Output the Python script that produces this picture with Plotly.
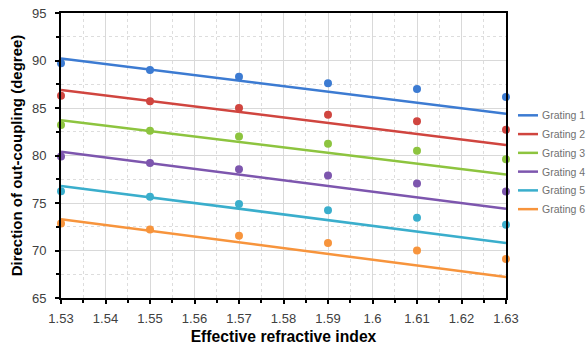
import plotly.graph_objects as go

x_index = [1.53, 1.55, 1.57, 1.59, 1.61, 1.63]
names = ["Grating 1", "Grating 2", "Grating 3", "Grating 4", "Grating 5", "Grating 6"]
colors = ["#3C7BD2", "#D0453F", "#8DC43F", "#7D56AE", "#3AAECC", "#F7943C"]

g1 = [89.7, 89.0, 88.3, 87.6, 87.0, 86.15]
g2 = [86.3, 85.7, 85.0, 84.3, 83.6, 82.7]
g3 = [83.2, 82.6, 82.0, 81.25, 80.5, 79.6]
g4 = [79.9, 79.2, 78.55, 77.9, 77.05, 76.2]
g5 = [76.25, 75.65, 74.9, 74.25, 73.45, 72.7]
g6 = [72.85, 72.2, 71.55, 70.8, 70.0, 69.1]
series = [g1, g2, g3, g4, g5, g6]

fit_x = [1.53, 1.63]
fit_start = [90.2, 86.9, 83.7, 80.4, 76.8, 73.3]
fit_end = [84.4, 81.1, 78.0, 74.4, 70.8, 67.2]

FONT = "Liberation Sans, Arial, sans-serif"
W, H = 587, 350
ML, MR, MT, MB = 61, 81, 12.5, 52
PW = W - ML - MR
PH = H - MT - MB

fig = go.Figure()
for name, col, ys, a, b in zip(names, colors, series, fit_start, fit_end):
    fig.add_trace(go.Scatter(x=fit_x, y=[a, b], mode="lines", name=name,
                             line=dict(color=col, width=2.5), legendgroup=name,
                             showlegend=False, cliponaxis=False))
    fig.add_trace(go.Scatter(x=x_index, y=ys, mode="markers", name=name,
                             marker=dict(color=col, size=8), showlegend=False,
                             legendgroup=name, cliponaxis=False))

# legend drawn as shapes + text (line samples and labels)
leg_x0, leg_x1, leg_tx = 518, 538, 540
leg_y0, leg_dy = 115, 18.8
for i, (name, col) in enumerate(zip(names, colors)):
    ypix = leg_y0 + i * leg_dy
    yp = 1 - (ypix - MT) / PH
    fig.add_shape(type="line", xref="paper", yref="paper",
                  x0=(leg_x0 - ML) / PW, x1=(leg_x1 - ML) / PW, y0=yp, y1=yp,
                  line=dict(color=col, width=2.5))
    fig.add_annotation(xref="paper", yref="paper", x=(leg_tx - ML) / PW, y=yp,
                       xanchor="left", yanchor="middle", text=name, showarrow=False,
                       font=dict(family=FONT, size=10.5, color="#707070"))

axis_common = dict(
    showline=True, linecolor="black", linewidth=2, mirror=True,
    ticks="outside", ticklen=4, tickwidth=1.5, tickcolor="black",
    showgrid=True, gridcolor="#D9D9D9", gridwidth=1,
    zeroline=False, ticklabeloverflow="allow",
    tickfont=dict(family=FONT, size=13, color="#404040"),
)

fig.update_xaxes(
    range=[1.53, 1.63], dtick=0.01, tick0=1.53, tickformat="~g",
    title=dict(text="<b>Effective refractive index</b>",
               font=dict(family=FONT, size=15.7, color="black"),
               standoff=6),
    minor=dict(dtick=0.005, showgrid=True, gridcolor="#DDDDDD", griddash="dot",
               ticks="outside", ticklen=3, tickcolor="black"),
    ticklabelstandoff=3,
    **axis_common,
)
fig.update_yaxes(
    range=[65, 95], dtick=5, tick0=65,
    title=dict(text="<b>Direction of out-coupling (degree)</b>",
               font=dict(family=FONT, size=15, color="black"),
               standoff=6),
    minor=dict(dtick=2.5, showgrid=True, gridcolor="#DDDDDD", griddash="dot",
               ticks="outside", ticklen=3, tickcolor="black"),
    ticklabelstandoff=6,
    **axis_common,
)

fig.update_layout(
    width=W, height=H,
    margin=dict(l=ML, r=MR, t=MT, b=MB, autoexpand=False),
    paper_bgcolor="white", plot_bgcolor="white",
    showlegend=False,
)

fig.write_html(
    "out.html",
    config={"displayModeBar": False},
    post_script="document.body.style.margin='0px';document.body.style.overflow='hidden';",
)
